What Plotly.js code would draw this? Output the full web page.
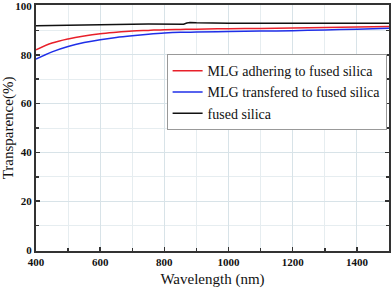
<!DOCTYPE html>
<html>
<head>
<meta charset="utf-8">
<script src="https://cdn.plot.ly/plotly-3.0.1.min.js"></script>
<style>html,body{margin:0;padding:0;background:#fff;}#chart{width:392px;height:288px;}</style>
</head>
<body>
<div id="chart"></div>
<script>
var wavelengthRed = [400, 450, 500, 550, 600, 650, 700, 750, 800, 850, 900, 1000, 1100, 1200, 1300, 1400, 1500];
var adheringValues = [82.0, 84.8, 86.5, 87.7, 88.6, 89.2, 89.7, 90.0, 90.3, 90.4, 90.5, 90.7, 90.8, 91.0, 91.2, 91.4, 91.6];
var transferedValues = [78.2, 81.2, 83.4, 85.0, 86.2, 87.1, 87.8, 88.4, 88.9, 89.2, 89.3, 89.5, 89.7, 89.9, 90.2, 90.5, 90.9];
var wavelengthSilica = [400, 500, 600, 700, 750, 780, 800, 820, 840, 860, 870, 880, 900, 950, 1000, 1200, 1400, 1500];
var silicaValues = [91.9, 92.2, 92.4, 92.5, 92.6, 92.5, 92.6, 92.5, 92.6, 92.5, 93.0, 93.2, 93.1, 92.9, 92.9, 92.9, 92.9, 92.9];
var seriesNames = ["MLG adhering to fused silica", "MLG transfered to fused silica", "fused silica"];

var serif = "'Liberation Serif', 'Times New Roman', serif";
var traces = [
  {x: wavelengthRed, y: adheringValues, name: seriesNames[0], mode: "lines", line: {color: "#e8202a", width: 1.5, shape: "spline"}},
  {x: wavelengthRed, y: transferedValues, name: seriesNames[1], mode: "lines", line: {color: "#1f2fe8", width: 1.5, shape: "spline"}},
  {x: wavelengthSilica, y: silicaValues, name: seriesNames[2], mode: "lines", line: {color: "#111", width: 1.5}}
];
var axisCommon = {
  showline: true, linecolor: "#333", linewidth: 2,
  ticks: "inside", ticklen: 4, tickwidth: 1.5, tickcolor: "#333",
  gridcolor: "#d8e3e8", gridwidth: 1, zeroline: false,
  ticklabeloverflow: "allow",
  tickfont: {family: serif, size: 11, color: "#111", weight: "bold"},
  minor: {ticks: "inside", ticklen: 3, tickcolor: "#333", showgrid: true, gridcolor: "#e6edf0"}
};
var layout = {
  width: 392, height: 288,
  margin: {l: 36, r: 3, t: 5, b: 37},
  paper_bgcolor: "#fff", plot_bgcolor: "#fff",
  showlegend: true,
  legend: {x: 0.37, y: 0.8, xanchor: "left", yanchor: "top", bgcolor: "#fff", bordercolor: "#999", borderwidth: 1,
    font: {family: serif, size: 14, color: "#111"}, tracegroupgap: 0, itemwidth: 30},
  xaxis: Object.assign({}, axisCommon, {
    range: [400, 1500], dtick: 200, tick0: 400, mirror: true,
    minor: Object.assign({}, axisCommon.minor, {dtick: 100}),
    title: {text: "Wavelength (nm)", font: {family: serif, size: 15, color: "#111"}, standoff: 6}
  }),
  yaxis: Object.assign({}, axisCommon, {
    range: [-0.4, 100.4], dtick: 20, tick0: 0, mirror: "ticks",
    minor: Object.assign({}, axisCommon.minor, {dtick: 10}),
    title: {text: "Transparence(%)", font: {family: serif, size: 15, color: "#111"}, standoff: 4}
  })
};
Plotly.newPlot("chart", traces, layout, {displayModeBar: false, staticPlot: true});
</script>
</body>
</html>
